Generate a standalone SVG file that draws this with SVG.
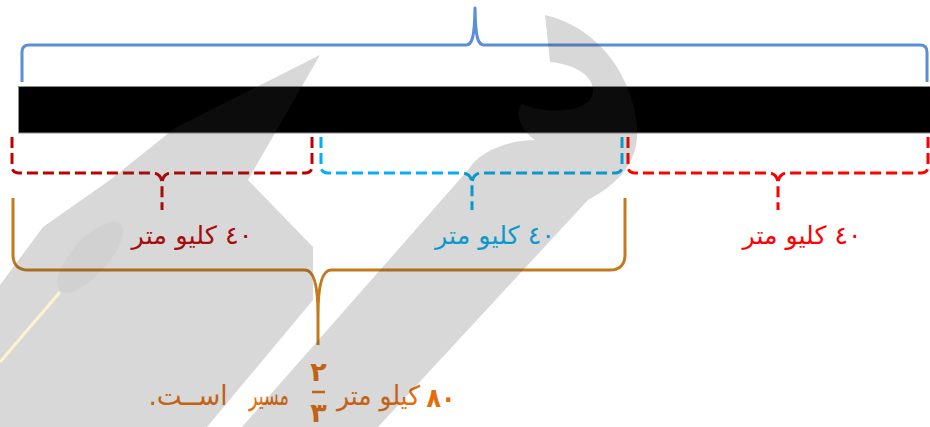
<svg xmlns="http://www.w3.org/2000/svg" width="930" height="427" viewBox="0 0 930 427">
<style>
.lbl{font-family:"DejaVu Sans","Noto Sans",sans-serif;font-size:25px;text-anchor:middle;direction:rtl;unicode-bidi:embed}
.bot{font-family:"DejaVu Sans","Noto Sans",sans-serif;font-size:27px;fill:#E46C0A;text-anchor:middle;direction:rtl;unicode-bidi:embed}
.dash{fill:none;stroke-width:3;stroke-dasharray:11 5;stroke-linecap:butt}
.brace{fill:none;stroke-width:3;stroke-linejoin:round;stroke-linecap:butt}
.wm{fill:#3D3D3D;fill-opacity:0.2}
</style>
<rect width="930" height="427" fill="#FFFFFF"/>
<g id="bar">
<rect x="18.5" y="86.5" width="913" height="46.5" fill="#000000" stroke="#8C8C8C" stroke-width="1"/>
</g>
<g id="connectors">
<path id="top-brace" class="brace" stroke="#5A8ED6" d="M22,82 V52 Q22,45 29,45 H466 C472,45 474.5,38 475,8 C475.5,38 478,45 484,45 H920 Q927,45 927,52 V82"/>
<g id="seg1-bracket" stroke="#C00000">
<path class="dash" d="M12,137 V166 Q12,173 19,173 H152 Q162,173 162,185 V210"/>
<path class="dash" d="M312,137 V166 Q312,173 305,173 H172 Q162,173 162,185"/>
</g>
<g id="seg2-bracket" stroke="#00B0F0">
<path class="dash" d="M321,137 V166 Q321,173 328,173 H462 Q472,173 472,185 V210"/>
<path class="dash" d="M622,137 V166 Q622,173 615,173 H482 Q472,173 472,185"/>
</g>
<g id="seg3-bracket" stroke="#FF0000">
<path class="dash" d="M628,137 V166 Q628,173 635,173 H768 Q778,173 778,185 V210"/>
<path class="dash" d="M928,137 V166 Q928,173 921,173 H788 Q778,173 778,185"/>
</g>
<path id="bottom-brace" class="brace" stroke="#C47A1C" d="M13,198 V256 Q14,270 28,270 H305 C314,270 318,285 318,315 V345 M625,198 V256 Q624,270 610,270 H331 C322,270 318,285 318,315"/>
</g>
<g id="label1"><text class="lbl" x="192" y="244" fill="#C00000" textLength="121" lengthAdjust="spacingAndGlyphs">٤٠ كليو متر</text></g>
<g id="label2"><text class="lbl" x="495" y="244" fill="#00B0F0" textLength="120" lengthAdjust="spacingAndGlyphs">٤٠ كليو متر</text></g>
<g id="label3"><text class="lbl" x="802" y="244" fill="#FF0000" textLength="119" lengthAdjust="spacingAndGlyphs">٤٠ كليو متر</text></g>
<g id="caption">
<text class="bot" x="441" y="407" font-weight="bold" textLength="29" lengthAdjust="spacingAndGlyphs">٨٠</text>
<text class="bot" x="378.5" y="405" textLength="83" lengthAdjust="spacingAndGlyphs">كيلو متر</text>
<text class="bot" x="318.5" y="381" font-weight="bold">٢</text>
<line x1="312" y1="392" x2="325" y2="392" stroke="#E46C0A" stroke-width="2.5"/>
<text class="bot" x="318.5" y="422" font-weight="bold">٣</text>
<text class="bot" x="269" y="405" textLength="40" lengthAdjust="spacingAndGlyphs">مسير</text>
<text class="bot" x="188" y="405" textLength="79" lengthAdjust="spacingAndGlyphs">اســت.</text>
</g>
<g id="watermark">
<polygon class="wm" points="320,55 248,180 313,247 313,300 207,427 0,427 0,285 43,227 110,180 175,128"/>
<ellipse cx="90" cy="257" rx="45" ry="18" transform="rotate(-48 90 257)" style="fill:#3D3D3D;fill-opacity:0.04"/>
<line x1="60" y1="292" x2="0" y2="362" stroke="#FFF2D0" stroke-width="3"/>
<path class="wm" d="M545,15 C590,25 630,65 637,125 C640,165 615,185 588,200 L378,427 L242,427 L468,170 C480,150 510,140 535,140 C518,128 515,110 522,104 C540,112 575,115 590,100 C600,85 585,65 550,62 Z"/>
</g>
</svg>
